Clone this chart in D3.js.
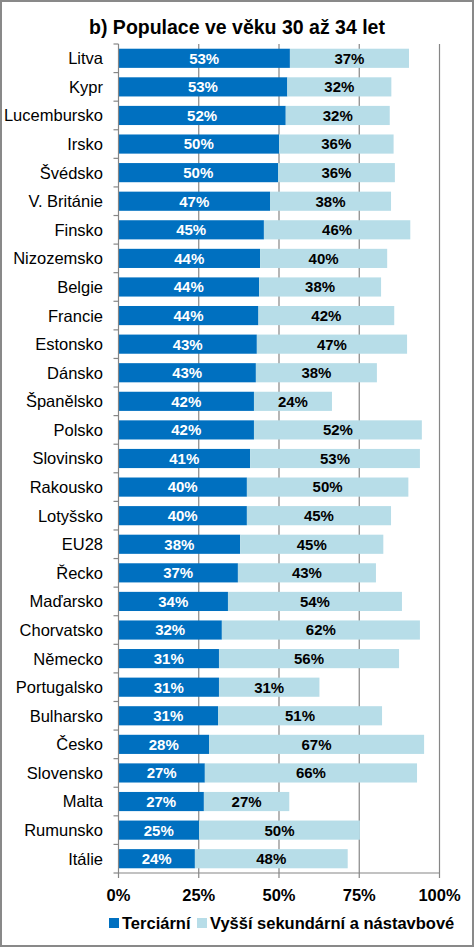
<!DOCTYPE html>
<html>
<head>
<meta charset="utf-8">
<script src="https://cdn.jsdelivr.net/npm/d3@7"></script>
<style>
  html, body { margin: 0; padding: 0; background: #fff; }
  svg { display: block; }
  text { font-family: "Liberation Sans", Arial, sans-serif; }
</style>
</head>
<body>
<svg id="chart" width="474" height="947"></svg>
<script>
const title = "b) Populace ve věku 30 až 34 let";
const categories = ["Litva","Kypr","Lucembursko","Irsko","Švédsko","V. Británie","Finsko","Nizozemsko","Belgie","Francie","Estonsko","Dánsko","Španělsko","Polsko","Slovinsko","Rakousko","Lotyšsko","EU28","Řecko","Maďarsko","Chorvatsko","Německo","Portugalsko","Bulharsko","Česko","Slovensko","Malta","Rumunsko","Itálie"];
const tertiary = [53.4,52.6,52.1,50.0,49.7,47.2,45.3,44.1,43.8,43.6,43.1,42.8,42.2,42.2,41.0,40.0,40.0,37.9,37.2,34.1,32.2,31.3,31.3,31.0,28.2,26.9,26.6,25.1,23.8];
const upperSecondary = [37.1,32.4,32.4,35.7,36.4,37.7,45.6,39.6,38.0,42.3,46.8,37.7,24.3,52.3,52.9,50.3,44.9,44.6,43.0,54.2,61.7,56.1,31.3,51.1,67.0,66.1,26.6,50.1,47.6];
const seriesNames = ["Terciární","Vyšší sekundární a nástavbové"];
const seriesColors = ["#0070C0","#B7DDE8"];
const labelColors = ["#FFFFFF","#000000"];
const xTicks = [0,25,50,75,100];
const xTickLabels = ["0%","25%","50%","75%","100%"];

const svg = d3.select("#chart");
const W = 474, H = 947;
const plot = {left: 118.5, right: 439.5, top: 44, bottom: 873};
const gridColor = "#868686";

// outer border
svg.append("rect").attr("x",1).attr("y",1).attr("width",W-2).attr("height",H-2)
  .attr("fill","#fff").attr("stroke","#898989").attr("stroke-width",2);

svg.append("text").attr("x",237).attr("y",34).attr("text-anchor","middle")
  .attr("font-size","19.5px").attr("font-weight","bold").attr("fill","#000").text(title);

const x = d3.scaleLinear().domain([0,100]).range([plot.left, plot.right]);
const y = d3.scaleBand().domain(categories).range([plot.top, plot.bottom])
  .paddingInner(0.33).paddingOuter(0.165);

// gridlines
svg.append("g").selectAll("line").data(xTicks.filter(d=>d>0)).join("line")
  .attr("x1",d=>x(d)).attr("x2",d=>x(d)).attr("y1",plot.top).attr("y2",plot.bottom)
  .attr("stroke",gridColor).attr("stroke-width",1.2);

const data = categories.map((c,i)=>({cat:c, v:[tertiary[i], upperSecondary[i]]}));

// bars
const rows = svg.append("g").selectAll("g").data(data).join("g");
[0,1].forEach(s=>{
  rows.append("rect")
    .attr("x", d => x(s===0 ? 0 : d.v[0]))
    .attr("width", d => x(s===0 ? d.v[0] : d.v[0]+d.v[1]) - x(s===0 ? 0 : d.v[0]))
    .attr("y", d => y(d.cat))
    .attr("height", y.bandwidth())
    .attr("fill", seriesColors[s]);
});
[0,1].forEach(s=>{
  rows.append("text")
    .attr("x", d => s===0 ? x(d.v[0]/2) : x(d.v[0] + d.v[1]/2))
    .attr("y", d => y(d.cat) + y.bandwidth()/2)
    .attr("dy","0.36em")
    .attr("text-anchor","middle")
    .attr("font-size","15px").attr("font-weight","bold")
    .attr("fill", labelColors[s])
    .text(d => Math.round(d.v[s]) + "%");
});

// y axis line + ticks
svg.append("line").attr("x1",plot.left).attr("x2",plot.left).attr("y1",plot.top).attr("y2",plot.bottom)
  .attr("stroke",gridColor).attr("stroke-width",1.2);
const yTickPos = d3.range(categories.length+1).map(i => plot.top + i*(plot.bottom-plot.top)/categories.length);
svg.append("g").selectAll("line").data(yTickPos).join("line")
  .attr("x1",plot.left-5).attr("x2",plot.left).attr("y1",d=>d).attr("y2",d=>d)
  .attr("stroke",gridColor).attr("stroke-width",1.2);
svg.append("g").selectAll("text").data(categories).join("text")
  .attr("x",103).attr("y",d=>y(d)+y.bandwidth()/2).attr("dy","0.36em")
  .attr("text-anchor","end").attr("font-size","16.5px").attr("fill","#000").text(d=>d);

// x axis
svg.append("line").attr("x1",plot.left).attr("x2",plot.right).attr("y1",plot.bottom).attr("y2",plot.bottom)
  .attr("stroke",gridColor).attr("stroke-width",1.2);
svg.append("g").selectAll("line").data(xTicks).join("line")
  .attr("x1",d=>x(d)).attr("x2",d=>x(d)).attr("y1",plot.bottom).attr("y2",plot.bottom+5)
  .attr("stroke",gridColor).attr("stroke-width",1.2);
svg.append("g").selectAll("text").data(xTicks).join("text")
  .attr("x",d=>x(d)).attr("y",895).attr("dy","0.36em").attr("text-anchor","middle")
  .attr("font-size","16.5px").attr("font-weight","bold").attr("fill","#000")
  .text((d,i)=>xTickLabels[i]);

// legend
const legendPos = [109, 197];
const lg = svg.append("g").selectAll("g").data(seriesNames).join("g")
  .attr("transform",(d,i)=>`translate(${legendPos[i]},923)`);
lg.append("rect").attr("x",0).attr("y",-5).attr("width",10).attr("height",10)
  .attr("fill",(d,i)=>seriesColors[i]);
lg.append("text").attr("x",13).attr("y",0).attr("dy","0.36em")
  .attr("font-size","16.5px").attr("font-weight","bold").attr("fill","#000").text(d=>d);
</script>
</body>
</html>
